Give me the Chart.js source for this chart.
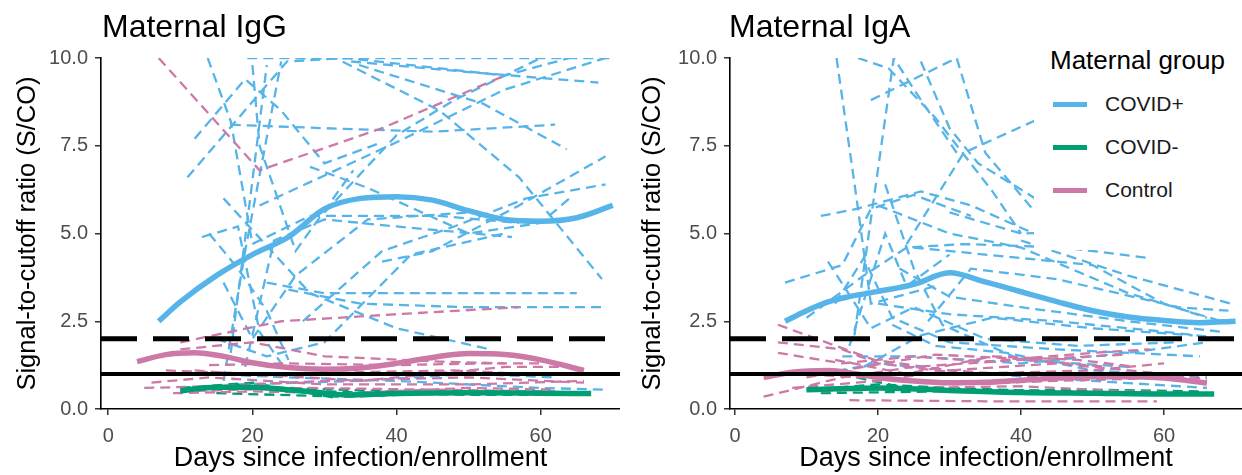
<!DOCTYPE html>
<html>
<head>
<meta charset="utf-8">
<script src="https://cdn.jsdelivr.net/npm/chart.js@4.4.1/dist/chart.umd.min.js"></script>
<style>
  body { margin: 0; background: #fff; font-family: 'Liberation Sans', Arial, sans-serif; }
  #wrap { position: relative; width: 1242px; height: 475px; overflow: hidden; }
  .panel { position: absolute; top: 0; height: 475px; }
  .ptitle { position: absolute; top: 10px; font-size: 32px; line-height: 32px; color: #000; white-space: nowrap; }
  #legend { position: absolute; left: 1034px; top: 36px; width: 208px; height: 214px; background: #fff; }
  #legend .lt { position: absolute; left: 16px; top: 10px; font-size: 26px; line-height: 28px; color: #000; white-space: nowrap; }
  #legend .it { position: absolute; left: 19px; height: 24px; display: flex; align-items: center; font-size: 21px; color: #1a1a1a; }
  #legend .sw { width: 34px; height: 5px; margin-right: 18px; }
</style>
</head>
<body>
<div id="wrap">
  <div class="panel" id="p1" style="left:0;width:620px;"><canvas id="igg"></canvas></div>
  <div class="panel" id="p2" style="left:629px;width:613px;"><canvas id="iga"></canvas></div>
  <div class="ptitle" style="left:102px;">Maternal IgG</div>
  <div class="ptitle" style="left:729px;">Maternal IgA</div>
  <div id="legend">
    <div class="lt">Maternal group</div>
    <div class="it" style="top:56px;"><span class="sw" style="background:#56B4E9"></span>COVID+</div>
    <div class="it" style="top:99px;"><span class="sw" style="background:#009E73"></span>COVID-</div>
    <div class="it" style="top:142px;"><span class="sw" style="background:#CC79A7"></span>Control</div>
  </div>
</div>
<script>
// axis ticks
var xTicks = [0, 20, 40, 60];
var yTicks = [0, 2.5, 5, 7.5, 10];
var cutoffs = [1, 2];

// individual trajectories: [day, S/CO]
var iggPos = [
  [[19.3, 10], [45, 10], [69.7, 10]],
  [[13.8, 10], [17, 8.2], [20, 4.7], [28, 5.5], [46, 5.5], [57, 5.3]],
  [[11, 6.6], [24.8, 9.9], [33, 10], [55, 9.5], [64, 10]],
  [[12, 7.7], [19, 9.4], [24, 8.5], [30, 7.0], [38, 7.6]],
  [[17, 8.1], [30, 8.0], [45, 7.9], [62, 8.1]],
  [[26, 10], [31.5, 10], [46, 8.5], [57, 6.6], [68.5, 3.7]],
  [[33.7, 9.9], [50, 9.6], [68, 9.3]],
  [[34.8, 9.8], [52, 8.7], [63.6, 7.4]],
  [[30, 5.6], [40, 7.8], [48, 8.8], [60, 10]],
  [[21, 5.8], [40, 7.6], [55, 9.1], [69, 10]],
  [[38, 4.2], [45, 4.5], [57, 5.8], [69, 7.2]],
  [[27, 2.5], [38, 4.5], [48, 5.2], [58, 6.0], [69, 6.4]],
  [[22, 3.6], [30, 3.3], [45, 3.3], [65, 3.3]],
  [[25, 3.4], [35, 3.0], [50, 2.9], [69, 2.9]],
  [[16, 6.0], [28, 3.3], [40, 2.3], [53, 1.7]],
  [[16, 0.8], [19, 4.5], [24, 9.9]],
  [[17, 1.6], [20, 6.5], [22, 9.8]],
  [[14, 5.0], [18, 4.0], [22, 2.8], [25, 1.4]],
  [[15, 2.0], [22, 1.5], [30, 1.9], [42, 4.4], [55, 5.0]],
  [[14, 1.0], [25, 0.9], [40, 0.8], [60, 0.6], [69, 0.55]],
  [[18, 0.7], [35, 0.8], [50, 1.0], [62, 0.9]],
  [[20, 9.8], [21, 7.5], [26, 4.5], [34, 6.8]],
  [[28, 6.9], [36, 6.3], [50, 5.0], [60, 5.3], [64, 6.0]],
  [[13, 4.9], [18, 5.2], [21, 2.2], [24, 1.3]],
  [[16, 3.6], [20, 2.0], [26, 3.8], [36, 5.4], [50, 5.6]],
  [[19, 1.2], [23, 4.8], [30, 5.4], [40, 5.2], [56, 4.9]]
];
var iggNeg = [
  [[10, 0.6], [20, 0.75], [32, 0.3]],
  [[12, 0.55], [25, 0.6], [40, 0.5], [60, 0.45], [67, 0.45]],
  [[17, 0.7], [30, 0.5], [50, 0.4], [66, 0.4]],
  [[15, 0.45], [33, 0.35], [55, 0.5]]
];
var iggCtrl = [
  [[7, 10], [21, 6.8], [38, 8.0], [55, 9.5]],
  [[10, 1.9], [24, 2.5], [40, 2.7], [57, 2.9]],
  [[10, 1.7], [20, 1.9], [30, 1.5], [46, 1.35], [55, 1.3]],
  [[5, 0.6], [15, 0.65], [30, 0.8], [50, 0.9], [66, 0.75]],
  [[8, 1.1], [20, 1.0], [35, 0.8], [55, 1.2], [64, 1.2]],
  [[10, 0.5], [18, 0.55], [28, 0.6], [45, 0.55], [62, 0.5]],
  [[6, 0.75], [14, 0.9], [30, 0.7], [50, 0.7], [66, 0.8]],
  [[12, 1.1], [22, 0.95], [35, 1.05], [48, 1.1], [58, 1.0]],
  [[9, 0.45], [20, 0.5], [33, 0.45], [50, 0.6], [62, 0.55]],
  [[14, 1.25], [25, 1.3], [40, 1.25], [52, 1.3], [60, 1.3]]
];
var igaPos = [
  [[14.2, 10], [17, 6.0], [19, 3.0], [28, 3.5]],
  [[17.2, 10], [21.5, 9.7], [28, 8.3], [36, 6.2], [40, 5.0]],
  [[16.7, 2.1], [22.2, 10], [26, 8.8], [31, 7.3]],
  [[19, 8.8], [31, 10], [35, 7.3], [41.6, 5.7]],
  [[24, 4.7], [32, 7.3], [45, 8.5]],
  [[26, 9.9], [30, 8.0], [34, 7.0], [42, 6.0]],
  [[7, 3.6], [15, 4.1], [19, 5.7], [25, 6.1], [33, 5.5]],
  [[12, 5.5], [17, 5.7], [26, 6.2], [33, 5.8], [44, 4.8]],
  [[30, 5.6], [40, 5.0], [52, 5.1], [63, 4.85]],
  [[40, 4.8], [55, 3.8], [69.4, 3.0]],
  [[20, 3.0], [30, 2.7], [45, 2.5], [60, 2.2], [69, 2.0]],
  [[15, 1.5], [25, 1.5], [40, 1.3], [55, 1.6], [66, 1.9]],
  [[22, 2.4], [28, 1.8], [38, 1.6], [50, 1.1], [66, 0.9]],
  [[12, 1.0], [20, 1.3], [35, 1.0], [50, 0.8], [66, 0.6]],
  [[25, 4.6], [35, 4.4], [50, 4.1], [60, 3.0], [66, 2.6]],
  [[20, 5.8], [30, 5.0], [40, 4.6], [55, 3.3], [68, 2.5]],
  [[23, 4.0], [30, 3.2], [40, 2.9], [55, 2.5], [68, 2.2]],
  [[14, 3.0], [18, 4.3], [22, 2.6], [30, 1.9], [45, 1.7], [65, 1.5]],
  [[27, 2.5], [33, 4.0], [45, 3.7], [62, 2.9], [69, 2.8]],
  [[16, 1.8], [21, 5.0], [24, 3.5], [30, 4.4]],
  [[10, 2.6], [18, 3.8], [24, 4.6], [32, 4.7], [46, 4.6], [58, 4.3]],
  [[13, 4.2], [19, 2.3], [25, 2.9], [35, 2.0], [48, 1.8], [62, 1.9]],
  [[18, 1.2], [26, 2.1], [36, 2.6], [50, 2.3], [64, 2.1]],
  [[21, 6.4], [25, 4.0], [29, 2.4], [40, 1.4], [55, 1.2]]
];
var igaNeg = [
  [[10, 0.55], [20, 0.7], [30, 0.6], [45, 0.5], [60, 0.45], [67, 0.45]],
  [[17, 0.9], [25, 0.55], [40, 0.45], [60, 0.4]],
  [[12, 0.45], [28, 0.5], [50, 0.55], [65, 0.5]]
];
var igaCtrl = [
  [[6, 2.4], [19.5, 1.4], [30, 1.1], [45, 0.9]],
  [[16, 0.25], [35, 0.22], [59, 0.22]],
  [[4, 0.35], [15, 0.9], [25, 1.2], [40, 1.4], [55, 1.55]],
  [[6, 1.6], [15, 1.3], [25, 1.5], [35, 1.35], [50, 1.6], [58, 1.7]],
  [[8, 0.6], [20, 0.8], [30, 1.1], [45, 1.3], [60, 1.0], [66, 0.85]],
  [[10, 0.9], [18, 1.2], [28, 1.55], [38, 1.45], [52, 1.2]],
  [[6, 1.9], [15, 1.7], [20, 1.3], [32, 1.0], [50, 1.1], [60, 1.3]],
  [[12, 0.5], [25, 0.6], [40, 0.65], [55, 0.5], [65, 0.45]],
  [[8, 1.0], [18, 0.9], [30, 0.7], [45, 0.8], [62, 0.9]],
  [[14, 1.4], [24, 1.0], [36, 1.5], [48, 1.4], [56, 1.2]]
];

// smoothed group curves
var iggPosDays = [7, 10, 15, 20, 25, 30, 35, 40, 45, 50, 55, 60, 65, 70];
var iggPosFit  = [2.5, 3.05, 3.8, 4.4, 4.9, 5.7, 6.0, 6.05, 5.95, 5.65, 5.4, 5.35, 5.45, 5.8];
var iggNegDays = [10, 15, 20, 25, 30, 33, 40, 50, 60, 67];
var iggNegFit  = [0.52, 0.62, 0.62, 0.55, 0.45, 0.4, 0.44, 0.46, 0.45, 0.44];
var iggCtrlDays = [4, 8, 12, 16, 20, 25, 30, 35, 40, 45, 50, 55, 60, 66];
var iggCtrlFit  = [1.35, 1.55, 1.6, 1.5, 1.32, 1.18, 1.13, 1.17, 1.3, 1.47, 1.58, 1.55, 1.4, 1.1];
var igaPosDays = [7, 10, 13, 16, 20, 25, 30, 35, 40, 45, 50, 55, 60, 65, 70];
var igaPosFit  = [2.5, 2.8, 3.05, 3.2, 3.35, 3.55, 3.88, 3.62, 3.34, 3.06, 2.8, 2.62, 2.52, 2.46, 2.5];
var igaNegDays = [10, 20, 30, 40, 50, 60, 67];
var igaNegFit  = [0.55, 0.6, 0.53, 0.47, 0.45, 0.43, 0.43];
var igaCtrlDays = [4, 8, 13, 17, 20, 25, 30, 35, 40, 45, 50, 55, 60, 66];
var igaCtrlFit  = [0.9, 1.05, 1.1, 1.0, 0.9, 0.8, 0.75, 0.76, 0.82, 0.88, 0.92, 0.92, 0.88, 0.74];

var colPos = '#56B4E9', colNeg = '#009E73', colCtrl = '#CC79A7';
Chart.defaults.font.family = "'Liberation Sans', Arial, sans-serif";

function trajSets(list, color) {
  return list.map(function (t) {
    return {
      data: t.map(function (p) { return { x: p[0], y: p[1] }; }),
      borderColor: color, borderWidth: 2.3, borderDash: [10, 6],
      pointRadius: 0, tension: 0, order: 3
    };
  });
}
function fitSet(days, vals, color) {
  return {
    data: days.map(function (d, i) { return { x: d, y: vals[i] }; }),
    borderColor: color, borderWidth: 5.5, pointRadius: 0,
    cubicInterpolationMode: 'monotone', order: 2
  };
}
function cutoffSets(xmin, xmax) {
  return [
    { data: [{ x: xmin, y: cutoffs[0] }, { x: xmax, y: cutoffs[0] }], borderColor: '#000', borderWidth: 4, pointRadius: 0, order: 1 },
    { data: [{ x: xmin, y: cutoffs[1] }, { x: xmax, y: cutoffs[1] }], borderColor: '#000', borderWidth: 5, borderDash: [36, 16], pointRadius: 0, order: 1 }
  ];
}

function makePanel(id, pos, neg, ctrl, fits, xmin, xmax, titlePad) {
  var datasets = cutoffSets(xmin, xmax)
    .concat([fitSet(fits[0], fits[1], colPos), fitSet(fits[2], fits[3], colNeg), fitSet(fits[4], fits[5], colCtrl)])
    .concat(trajSets(ctrl, colCtrl), trajSets(neg, colNeg), trajSets(pos, colPos));
  return new Chart(document.getElementById(id), {
    type: 'line',
    data: { datasets: datasets },
    options: {
      responsive: true,
      maintainAspectRatio: false,
      animation: false,
      layout: { padding: { top: 58, right: 0, left: 0, bottom: 0 } },
      plugins: { legend: { display: false }, tooltip: { enabled: false } },
      scales: {
        x: {
          type: 'linear', min: xmin, max: xmax,
          afterBuildTicks: function (axis) { axis.ticks = xTicks.map(function (v) { return { value: v }; }); },
          afterFit: function (s) { s.height = 66; },
          ticks: { color: '#4d4d4d', font: { size: 20 }, padding: 9, maxRotation: 0 },
          grid: { drawOnChartArea: false, drawTicks: true, tickLength: 6, color: '#333', lineWidth: 1.5 },
          border: { display: true, color: '#000', width: 1.6 },
          title: { display: true, text: 'Days since infection/enrollment', color: '#000', font: { size: 27 }, padding: { top: 0, bottom: 0 } }
        },
        y: {
          min: 0, max: 10,
          afterBuildTicks: function (axis) { axis.ticks = yTicks.map(function (v) { return { value: v }; }); },
          afterFit: function (s) { s.width = 101; },
          ticks: { color: '#4d4d4d', font: { size: 20 }, padding: 7, callback: function (v) { return v.toFixed(1); } },
          grid: { drawOnChartArea: false, drawTicks: true, tickLength: 6, color: '#333', lineWidth: 1.5 },
          border: { display: true, color: '#000', width: 1.6 },
          title: { display: true, text: 'Signal-to-cutoff ratio (S/CO)', color: '#000', font: { size: 25.5 }, padding: { top: titlePad, bottom: 0 } }
        }
      }
    }
  });
}

makePanel('igg', iggPos, iggNeg, iggCtrl,
  [iggPosDays, iggPosFit, iggNegDays, iggNegFit, iggCtrlDays, iggCtrlFit], -1, 71, 13);
makePanel('iga', igaPos, igaNeg, igaCtrl,
  [igaPosDays, igaPosFit, igaNegDays, igaNegFit, igaCtrlDays, igaCtrlFit], -0.7, 70.9, 9);
</script>
</body>
</html>
